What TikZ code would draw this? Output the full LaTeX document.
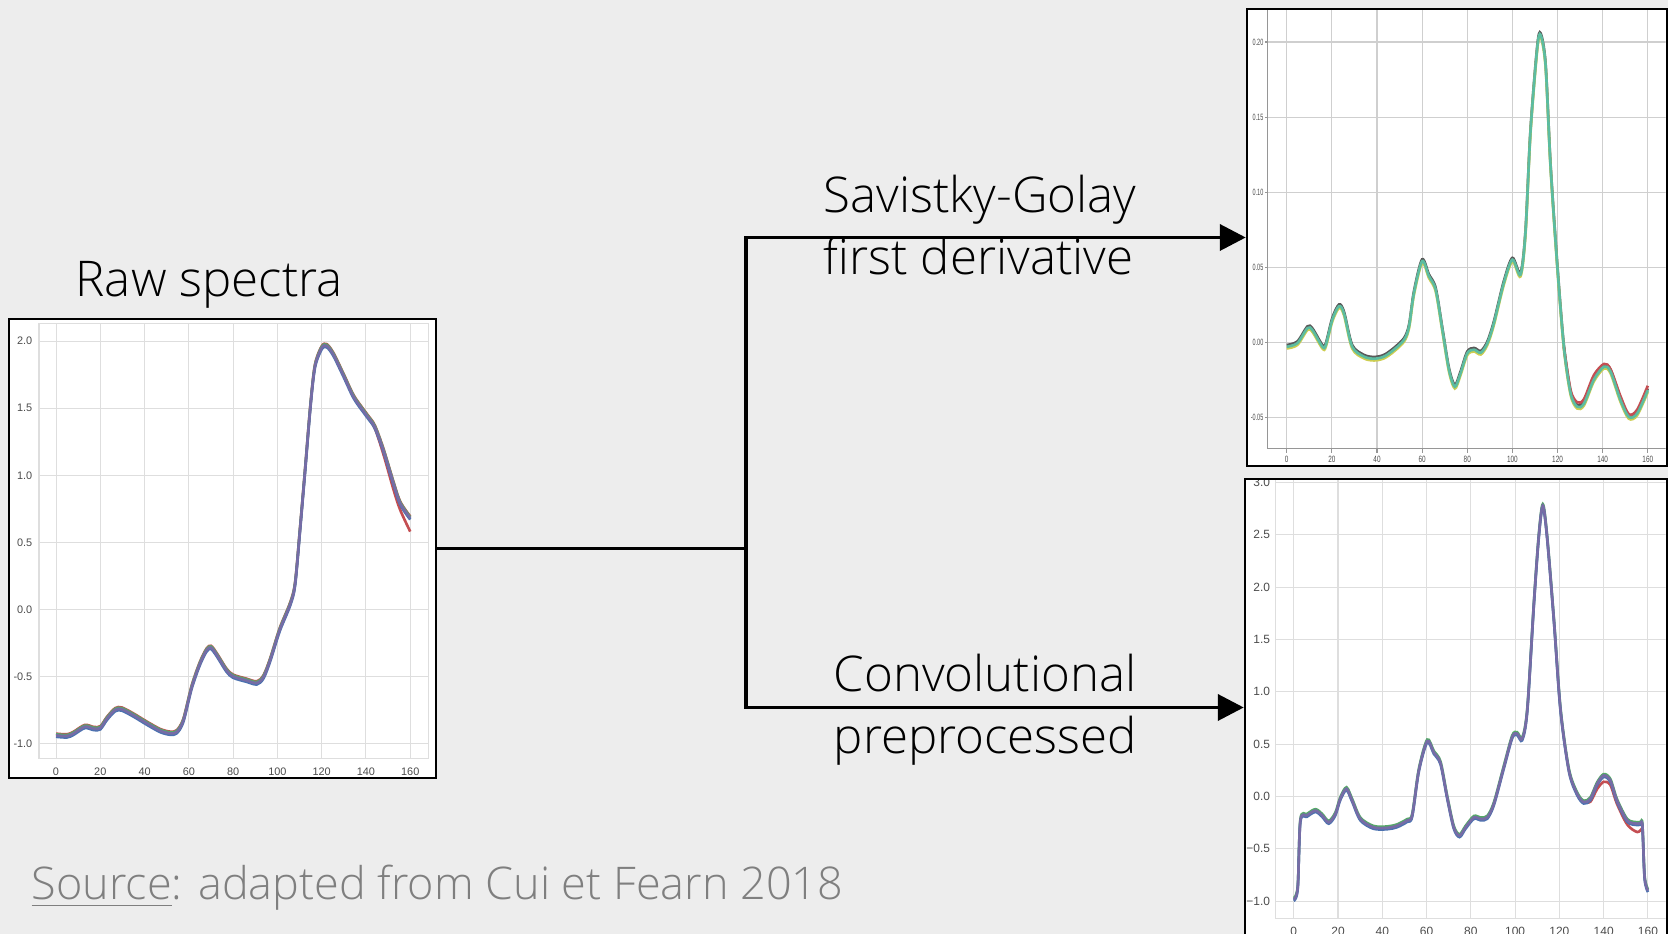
\documentclass[tikz,border=0pt]{standalone}
\usepackage{fontspec}
\setmainfont{Open Sans}[UprightFont={* Light}]
\newfontfamily\tickfont{Liberation Sans}
\usetikzlibrary{arrows.meta,fit,positioning}
\definecolor{slidebg}{RGB}{237,237,237}
\definecolor{gridgray}{RGB}{222,222,222}
\definecolor{spinegray}{RGB}{150,150,150}
\definecolor{sourcegray}{RGB}{127,127,127}
\definecolor{sbblue}{RGB}{76,114,176}
\definecolor{sbgreen}{RGB}{85,168,104}
\definecolor{sbred}{RGB}{196,78,82}
\definecolor{sbpurple}{RGB}{118,108,165}
\definecolor{sgteal}{RGB}{92,188,160}
\definecolor{sgyellow}{RGB}{205,205,80}
\tikzstyle{plotframe}=[rectangle,draw=black,line width=0.7pt,fill=white,inner sep=0pt]
\tikzstyle{caption}=[inner sep=0pt,anchor=base west,align=left,font=\fontsize{14}{17.8}\selectfont]
\tikzstyle{gridline}=[gridgray,line width=0.3pt]
\tikzstyle{ticklabel}=[inner sep=0pt,text=black!70,font=\tickfont\fontsize{3.1}{3.2}\selectfont]
\tikzstyle{spectrum}=[line width=0.75pt,smooth,tension=0.5]
\tikzstyle{link}=[line width=1.1pt]

% one spectrum per plot, drawn again in each colour
\newcommand\rawcurve[1]{\draw[spectrum,#1] plot coordinates {(0,-0.94) (5,-0.945) (8,-0.925)
  (13,-0.875) (17,-0.89) (20,-0.885) (23,-0.815) (26.7,-0.75) (29.7,-0.745) (35,-0.79)
  (41,-0.85) (47,-0.905) (51.5,-0.925) (54.5,-0.915) (57.5,-0.83) (61.3,-0.58) (65,-0.405)
  (68,-0.305) (70,-0.285) (72.6,-0.34) (77,-0.455) (80,-0.5) (86,-0.53) (90.7,-0.55)
  (93.7,-0.505) (96.7,-0.38) (101,-0.155) (105.8,0.04) (108,0.19) (110.3,0.61) (112.5,1.035)
  (115,1.53) (117,1.815) (120,1.95) (122.3,1.965) (125.3,1.9) (130,1.74) (134.6,1.58)
  (140.4,1.445) (144,1.36) (148,1.18) (152.5,0.935) (155.5,0.79) (160,0.68)};}
\newcommand\sgcurve[1]{\draw[spectrum,#1] plot coordinates {(0,-0.003) (4.7,-0.0007)
  (9.2,0.0094) (11.4,0.008) (15.8,-0.003) (17.3,-0.002) (20.2,0.015) (23.2,0.024)
  (25.4,0.019) (29,-0.003) (34.2,-0.0096) (38.7,-0.011) (43.1,-0.0096) (47.5,-0.005)
  (52,0.0016) (54.2,0.0105) (56.4,0.033) (60,0.054) (63,0.044) (66,0.035) (69,0.008)
  (71.9,-0.0185) (74.5,-0.0297) (77,-0.0208) (80,-0.0074) (83,-0.005) (86,-0.007)
  (88.9,-0.0007) (91.8,0.0127) (96.2,0.0395) (100,0.055) (103.6,0.045) (105.8,0.073)
  (108,0.14) (111,0.196) (112.5,0.2047) (114.7,0.1846) (116.9,0.1176) (119.9,0.0507)
  (122.8,-0.003) (125.8,-0.034) (128.7,-0.043) (131.7,-0.041) (136.1,-0.025)
  (140.6,-0.0163) (143.5,-0.0196) (147.9,-0.0386) (151.6,-0.0498) (155.3,-0.0475) (160,-0.032)};}
\newcommand\convcurve[1]{\draw[spectrum,#1] plot coordinates {(0,-0.984) (1.8,-0.87)
  (3,-0.23) (6,-0.18) (9.8,-0.135) (12.8,-0.18) (15.8,-0.247) (18.8,-0.167) (21,-0.022)
  (23.8,0.074) (26.4,-0.038) (30.1,-0.215) (36,-0.295) (42.2,-0.3) (46.7,-0.28)
  (51.2,-0.23) (53.5,-0.18) (56.5,0.25) (60.3,0.53) (63.3,0.42) (66.3,0.32) (69.3,-0.006)
  (72.3,-0.295) (74.9,-0.375) (77.6,-0.295) (81.4,-0.2) (84.4,-0.215) (87.4,-0.2)
  (90.4,-0.07) (94.9,0.28) (98.7,0.57) (100.9,0.6) (103.2,0.55) (105.5,0.83) (108.5,1.85)
  (110.7,2.49) (112.5,2.78) (114.4,2.49) (117.5,1.69) (120.5,0.83) (124.3,0.25) (128,0.026)
  (131,-0.054) (134,-0.022) (137,0.12) (140,0.2) (143,0.154) (146,-0.038) (150.7,-0.23)
  (155.2,-0.26) (156.7,-0.256) (157.5,-0.28) (158.5,-0.775) (160,-0.9)};}

\begin{document}
\begin{tikzpicture}[x=0.01cm,y=-0.01cm,>={Triangle[length=2.6mm,width=2.6mm]}]
  \fill[slidebg] (0,0) rectangle (1668,934);
  \useasboundingbox (0,0) rectangle (1668,934);

  % raw spectra
  \node[plotframe,fit={(9,319) (436,778)}] (raw) {};
  \begin{scope}
    \clip (10.5,320.5) rectangle (434.5,776.5);
    \begin{scope}[shift={(0.56cm,-6.09cm)},x=0.022125cm,y=1.34cm]
      \draw[gridline] (-7.7,-1.112) rectangle (168.1,2.134);
      \foreach \gx in {0,20,...,160} {
        \draw[gridline] (\gx,-1.112) -- (\gx,2.134);
        \node[ticklabel,anchor=north] (rawx\gx) at (\gx,-1.18) {\gx};
      }
      \foreach \gy/\lbl [count=\i] in {-1/-1.0,-0.5/-0.5,0/0.0,0.5/0.5,1/1.0,1.5/1.5,2/2.0} {
        \draw[gridline] (-7.7,\gy) -- (168.1,\gy);
        \node[ticklabel,anchor=east] (rawy\i) at (-10.4,\gy) {\lbl};
      }
      \rawcurve{sbred,yshift=0.5pt}
      \draw[spectrum,sbred] plot coordinates {(140.4,1.445) (144,1.35) (148,1.15) (152.5,0.89) (155.5,0.74) (160,0.58)};
      \rawcurve{sbgreen,yshift=0.3pt}
      \rawcurve{sbblue,yshift=-0.4pt}
      \rawcurve{sbpurple}
    \end{scope}
  \end{scope}

  % first derivative
  \node[plotframe,fit={(1247,9) (1667,466)}] (sg) {};
  \begin{scope}
    \clip (1248.5,10.5) rectangle (1665.5,464.5);
    \begin{scope}[shift={(12.86cm,-3.42cm)},x=0.02256cm,y=15cm]
      \foreach \gx in {0,20,...,160} {
        \draw[gridline,gray!38] (\gx,-0.0707) -- (\gx,0.23);
        \draw[spinegray,line width=0.3pt] (\gx,-0.0707) -- (\gx,-0.0735);
        \node[ticklabel,font=\tickfont\fontsize{2.6}{2.7}\selectfont,xscale=0.7,anchor=north] (sgx\gx) at (\gx,-0.0755) {\gx};
      }
      \foreach \gy/\lbl [count=\i] in {-0.05/-0.05,0/0.00,0.05/0.05,0.1/0.10,0.15/0.15,0.2/0.20} {
        \draw[gridline,gray!38] (-8.4,\gy) -- (172,\gy);
        \draw[spinegray,line width=0.3pt] (-8.4,\gy) -- (-9.8,\gy);
        \node[ticklabel,font=\tickfont\fontsize{2.6}{2.7}\selectfont,xscale=0.6,anchor=east] (sgy\i) at (-10.2,\gy) {\lbl};
      }
      \draw[spinegray,line width=0.4pt] (-8.4,0.23) -- (-8.4,-0.0707) -- (172,-0.0707);
      \sgcurve{black!65,yshift=0.5pt}
      \sgcurve{sgyellow,yshift=-0.5pt}
      \draw[spectrum,sbred] plot coordinates {(122.8,-0.003) (125.8,-0.032) (128.7,-0.04) (131.7,-0.038)
        (136.1,-0.022) (140.6,-0.0145) (143.5,-0.018) (147.9,-0.036) (151.6,-0.048) (155.3,-0.045) (160,-0.029)};
      \sgcurve{sgteal}
    \end{scope}
  \end{scope}

  % convolutional
  \node[plotframe,fit={(1245,479) (1667,936)}] (cv) {};
  \begin{scope}
    \clip (1246.5,480.5) rectangle (1665.5,934);
    \begin{scope}[shift={(12.93cm,-7.96cm)},x=0.022125cm,y=1.046cm]
      \draw[gridline] (-8.1,-1.166) rectangle (175,3.2);
      \foreach \gx in {0,20,...,160} {
        \draw[gridline] (\gx,-1.166) -- (\gx,3.2);
        \node[ticklabel,font=\tickfont\fontsize{3.4}{3.5}\selectfont,anchor=north] (cvx\gx) at (\gx,-1.243) {\gx};
      }
      \foreach \gy/\lbl [count=\i] in {-1/−1.0,-0.5/−0.5,0/0.0,0.5/0.5,1/1.0,1.5/1.5,2/2.0,2.5/2.5,3/3.0} {
        \draw[gridline] (-8.1,\gy) -- (175,\gy);
        \node[ticklabel,font=\tickfont\fontsize{3.4}{3.5}\selectfont,anchor=east] (cvy\i) at (-10.4,\gy) {\lbl};
      }
      \convcurve{sbgreen,yshift=0.4pt}
      \draw[spectrum,sbred] plot coordinates {(131,-0.054) (134,-0.05) (137,0.07) (140,0.14)
        (143,0.11) (146,-0.07) (150.7,-0.27) (155.2,-0.34) (157.5,-0.3)};
      \convcurve{sbblue,yshift=-0.4pt}
      \convcurve{sbpurple}
    \end{scope}
  \end{scope}

  % connectors
  \coordinate (split) at (746,548.5);
  \draw[link] (raw.east) -- (split);
  \draw[link,->] (split) |- (sg.west);
  \draw[link,->] (split) |- (cv.west);

  % texts (base = last line)
  \node[caption] (rawtitle) at (75,297) {Raw spectra};
  \node[caption] (sgtitle) at (823,275) {Savistky-Golay\\first derivative};
  \node[caption] (cvtitle) at (833,754) {Convolutional\\preprocessed};
  \node[caption,text=sourcegray,font=\fontsize{12.8}{15}\selectfont] (source) at (31,900) {\underline{Source}: adapted from Cui et Fearn 2018};
\end{tikzpicture}
\end{document}
